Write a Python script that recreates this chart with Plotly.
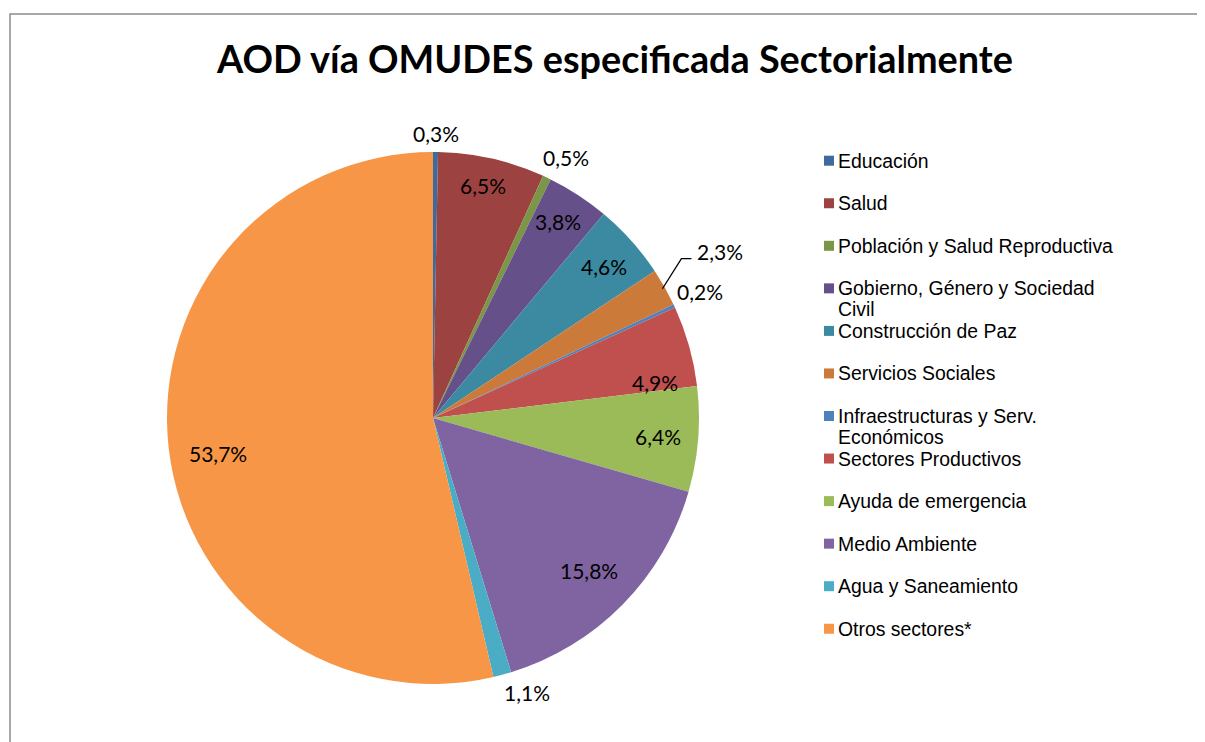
import math
import plotly.graph_objects as go

sectores = [
    "Educación",
    "Salud",
    "Población y Salud Reproductiva",
    "Gobierno, Género y Sociedad<br>Civil",
    "Construcción de Paz",
    "Servicios Sociales",
    "Infraestructuras y Serv.<br>Económicos",
    "Sectores Productivos",
    "Ayuda de emergencia",
    "Medio Ambiente",
    "Agua y Saneamiento",
    "Otros sectores*",
]
porcentajes = [0.3, 6.5, 0.5, 3.8, 4.6, 2.3, 0.2, 4.9, 6.4, 15.8, 1.1, 53.7]

colores = ["#3F6A9E", "#9C4240", "#7C9647", "#66508A", "#3C8AA2", "#CC7A3A",
           "#4F81BD", "#C0504D", "#9BBB59", "#8064A2", "#4BACC6", "#F79646"]

# posición de cada etiqueta: distancia al centro (fracción del radio) y desvío angular (grados)
radio_etiqueta = [1.07, 0.895, 1.10, 0.875, 0.86, 1.0, 1.11, 0.845, 0.85, 0.82, 1.09, 0.82]
desvio_etiqueta = [0, -0.7, 1.7, -0.6, 0.2, 0, -0.5, 6.7, 0, -0.3, -3.8, -2.9]

W, H = 1205, 742
OFF = 8  # margen del <body> de la página
cx, cy, R = 433 - OFF, 418 - OFF, 266


def px(x):
    return x / W


def py(y):
    return 1 - y / H


fig = go.Figure(go.Pie(
    labels=[s.replace("<br>", " ") for s in sectores],
    values=porcentajes,
    marker=dict(colors=colores, line=dict(width=0)),
    sort=False,
    direction="clockwise",
    rotation=0,
    textinfo="none",
    hoverinfo="label+percent",
    showlegend=False,
    domain=dict(x=[px(cx - R), px(cx + R)], y=[py(cy + R), py(cy - R)]),
))

total = sum(porcentajes)
acum = 0
for i, v in enumerate(porcentajes):
    medio = 2 * math.pi * (acum + v / 2) / total
    acum += v
    ang = medio + math.radians(desvio_etiqueta[i])
    r = R * radio_etiqueta[i]
    lx = cx + r * math.sin(ang)
    ly = cy - r * math.cos(ang)
    texto = f"{v:.1f}%".replace(".", ",")
    xanchor = "center"
    if i == 5:
        # etiqueta con línea guía
        ex, ey = cx + R * 0.99 * math.sin(medio), cy - R * 0.99 * math.cos(medio)
        kx, ky = ex + 19, ey - 30
        fig.add_shape(type="path", xref="paper", yref="paper",
                      path=f"M {px(ex)} {py(ey)} L {px(kx)} {py(ky)} L {px(kx + 10)} {py(ky)}",
                      line=dict(color="black", width=1.3))
        lx, ly = kx + 14, ky - 7
        xanchor = "left"
    fig.add_annotation(x=px(lx), y=py(ly), xref="paper", yref="paper",
                       text=texto, showarrow=False, xanchor=xanchor, yanchor="middle",
                       font=dict(family="Lato", size=21, color="black"))

# leyenda
fs = 19.4
for i, nombre in enumerate(sectores):
    yc = 160.7 - OFF + 42.55 * i
    fig.add_shape(type="rect", xref="paper", yref="paper",
                  x0=px(824 - OFF), x1=px(834 - OFF), y0=py(yc + 5), y1=py(yc - 5),
                  fillcolor=colores[i], line=dict(width=0))
    for j, linea in enumerate(nombre.split("<br>")):
        fig.add_annotation(x=px(836 - OFF), y=py(yc + 21 * j),
                           xref="paper", yref="paper", text=linea, showarrow=False,
                           xanchor="left", yanchor="middle", align="left",
                           font=dict(family="Liberation Sans", size=fs, color="black"))

# marco del gráfico
fig.add_shape(type="rect", xref="paper", yref="paper",
              x0=px(10 - OFF), x1=1.02, y0=-0.02, y1=py(14 - OFF),
              line=dict(color="#8C8C8C", width=1.5))

fig.update_layout(
    width=W, height=H,
    margin=dict(l=0, r=0, t=0, b=0),
    paper_bgcolor="white",
    plot_bgcolor="white",
    title=dict(text="<b>AOD vía OMUDES especificada Sectorialmente</b>",
               x=px(615 - OFF), xanchor="center", y=py(60 - OFF), yanchor="middle",
               font=dict(family="Lato", size=37.8, color="black")),
)

fig.write_html("out.html")
